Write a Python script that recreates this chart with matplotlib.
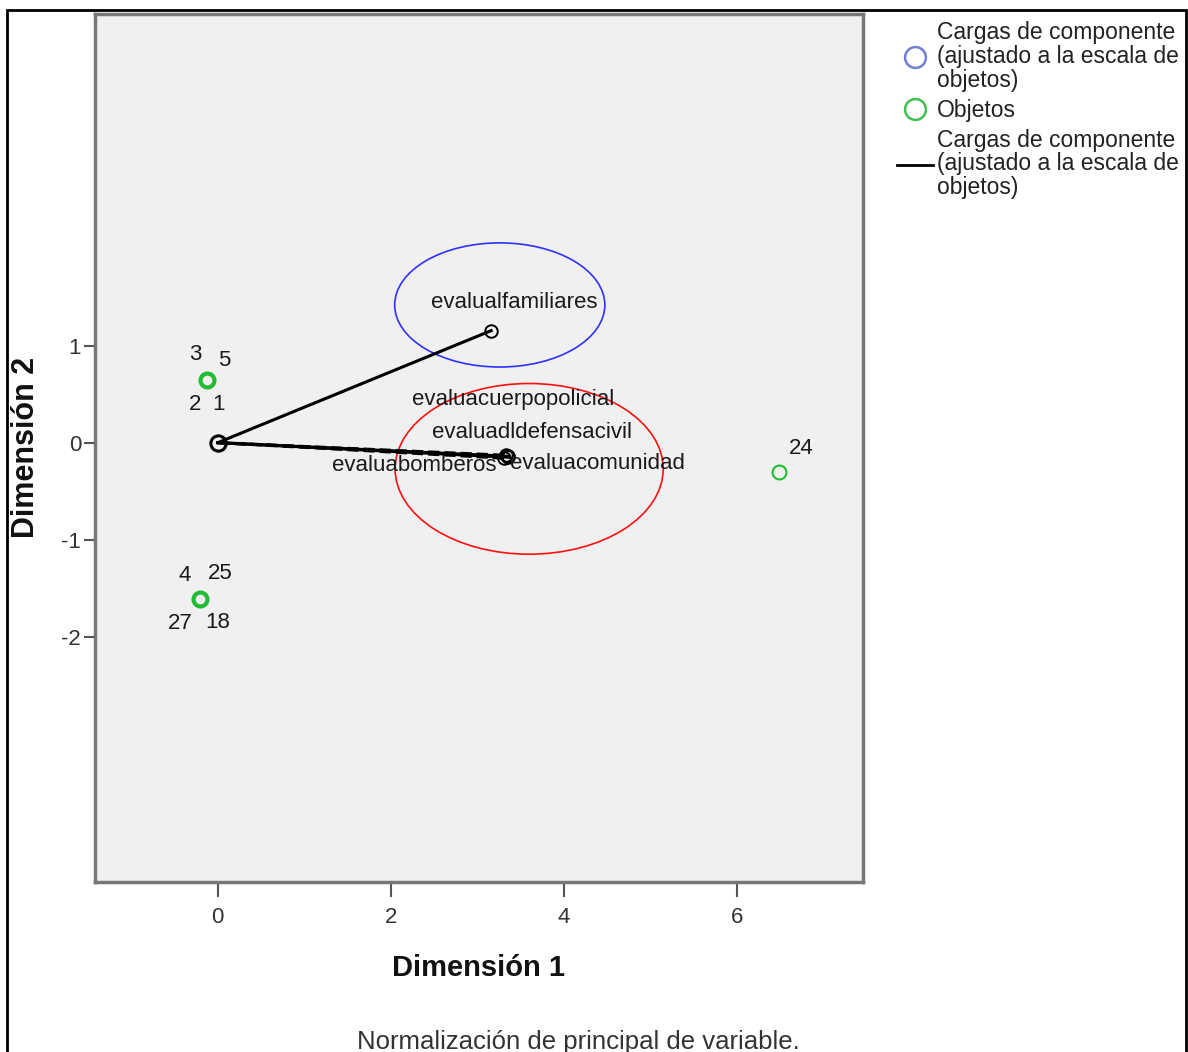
import matplotlib
matplotlib.use("Agg")
import matplotlib.pyplot as plt
from matplotlib.patches import Ellipse, Rectangle
from matplotlib.lines import Line2D

plt.rcParams['font.family'] = ['Liberation Sans Narrow', 'Liberation Sans', 'DejaVu Sans']

# ---- data ----
obj_x = [-0.12, -0.21, 6.49]
obj_y = [0.65, -1.61, -0.30]
obj_weight = [3, 3, 1.5]  # stacked points look thicker
obj_labels = [["3", "5", "2", "1"], ["4", "25", "27", "18"], ["24"]]

load_names = ["evalualfamiliares", "evaluacuerpopolicial", "evaluadldefensacivil",
              "evaluabomberos", "evaluacomunidad"]
load_x = [3.16, 3.33, 3.36, 3.31, 3.35]
load_y = [1.155, -0.13, -0.15, -0.16, -0.14]
load_styles = ["-", "--", "-", "--", "-"]

xticks = [0, 2, 4, 6]
yticks = [1, 0, -1, -2]
xlim = (-1.42, 7.46)
ylim = (-4.53, 4.42)

fig = plt.figure(figsize=(11.88, 10.52), dpi=100)
ax = fig.add_axes([95/1188, 1-882/1052, (863-95)/1188, (882-14)/1052])
ax.set_facecolor('#f0f0f0')
ax.set_xlim(*xlim)
ax.set_ylim(*ylim)

# ellipses
ax.add_patch(Ellipse((3.26, 1.42), 2.43, 1.28, fill=False, edgecolor='#3030ff', lw=1.2, zorder=2))
ax.add_patch(Ellipse((3.60, -0.27), 3.10, 1.76, fill=False, edgecolor='#ff1010', lw=1.2, zorder=2))

# loading vectors
for xv, yv, ls in zip(load_x, load_y, load_styles):
    ax.plot([0, xv], [0, yv], color='black', lw=2.2, ls=ls, zorder=3)
    ax.plot([xv], [yv], marker='o', ms=9, mfc='none', mec='black', mew=1.4, zorder=4)
ax.plot([0], [0], marker='o', ms=11, mfc='none', mec='black', mew=2.2, zorder=4)

# loading labels (offsets in points from the arrow tip)
lab_off = [(17, 20), (5, 40), (17, 18), (-65, -5), (65, -5)]
for name, xv, yv, off in zip(load_names, load_x, load_y, lab_off):
    ax.annotate(name, (xv, yv), xytext=off, textcoords='offset points',
                ha='center', va='center', fontsize=16, color='#1a1a1a', zorder=5)

# objects
for xv, yv, w in zip(obj_x, obj_y, obj_weight):
    ax.plot([xv], [yv], marker='o', ms=10, mfc='none', mec='#22bb33', mew=w, zorder=4)

offsets_group = [[(-9, 18), (12, 14), (-9, -18), (8, -18)],
                 [(-11, 17), (15, 18), (-14, -18), (13, -17)],
                 [(16, 17)]]
for xv, yv, labs, offs in zip(obj_x, obj_y, obj_labels, offsets_group):
    for lab, off in zip(labs, offs):
        ax.annotate(lab, (xv, yv), xytext=off, textcoords='offset points',
                    ha='center', va='center', fontsize=16, color='#1a1a1a')

# axes style
for s in ax.spines.values():
    s.set_color('#777777')
    s.set_linewidth(2.5)
ax.set_xticks(xticks)
ax.set_yticks(yticks)
ax.set_xticklabels([str(t) for t in xticks], fontsize=16, color='#333333')
ax.set_yticklabels([str(t) for t in yticks], fontsize=16, color='#333333')
ax.tick_params(axis='x', length=11, width=1.5, color='#555555', pad=7)
ax.tick_params(axis='y', length=8, width=1.5, color='#555555', pad=2)
ax.set_xlabel('Dimensión 1', fontsize=21, fontweight='bold', color='#111111')
ax.set_ylabel('Dimensión 2', fontsize=22, fontweight='bold', color='#111111')
ax.xaxis.set_label_coords((478 - 95) / 768, -(982 - 882) / 868)
ax.xaxis.label.set_va('bottom')
ax.yaxis.set_label_coords(-(95 - 41) / 768, (882 - 447) / 868)

# legend
h1 = Line2D([], [], marker='o', ls='none', ms=15, mfc='none', mec='#7080d0', mew=1.8)
h2 = Line2D([], [], marker='o', ls='none', ms=15, mfc='none', mec='#40c050', mew=1.8)
h3 = Line2D([], [], color='black', lw=2)
leg = fig.legend([h1, h2, h3],
                 ["Cargas de componente\n(ajustado a la escala de\nobjetos)",
                  "Objetos",
                  "Cargas de componente\n(ajustado a la escala de\nobjetos)"],
                 loc='upper left', bbox_to_anchor=(897/1188, 1-21/1052),
                 frameon=False, fontsize=16.5, handlelength=1.55, handletextpad=0.2,
                 labelspacing=0.3, borderaxespad=0, borderpad=0)
for t in leg.get_texts():
    t.set_linespacing(1.05)
    t.set_color('#222222')

fig.text(578/1188, 1-1042/1052, 'Normalización de principal de variable.',
         ha='center', va='center', fontsize=18.5, color='#333333')

# outer border
fig.add_artist(Rectangle((7/1188, -0.01), 1180/1188 - 0.0005, 1-10/1052 + 0.01,
                         transform=fig.transFigure, fill=False, edgecolor='black', lw=2))

fig.savefig('out.png', dpi=100)
